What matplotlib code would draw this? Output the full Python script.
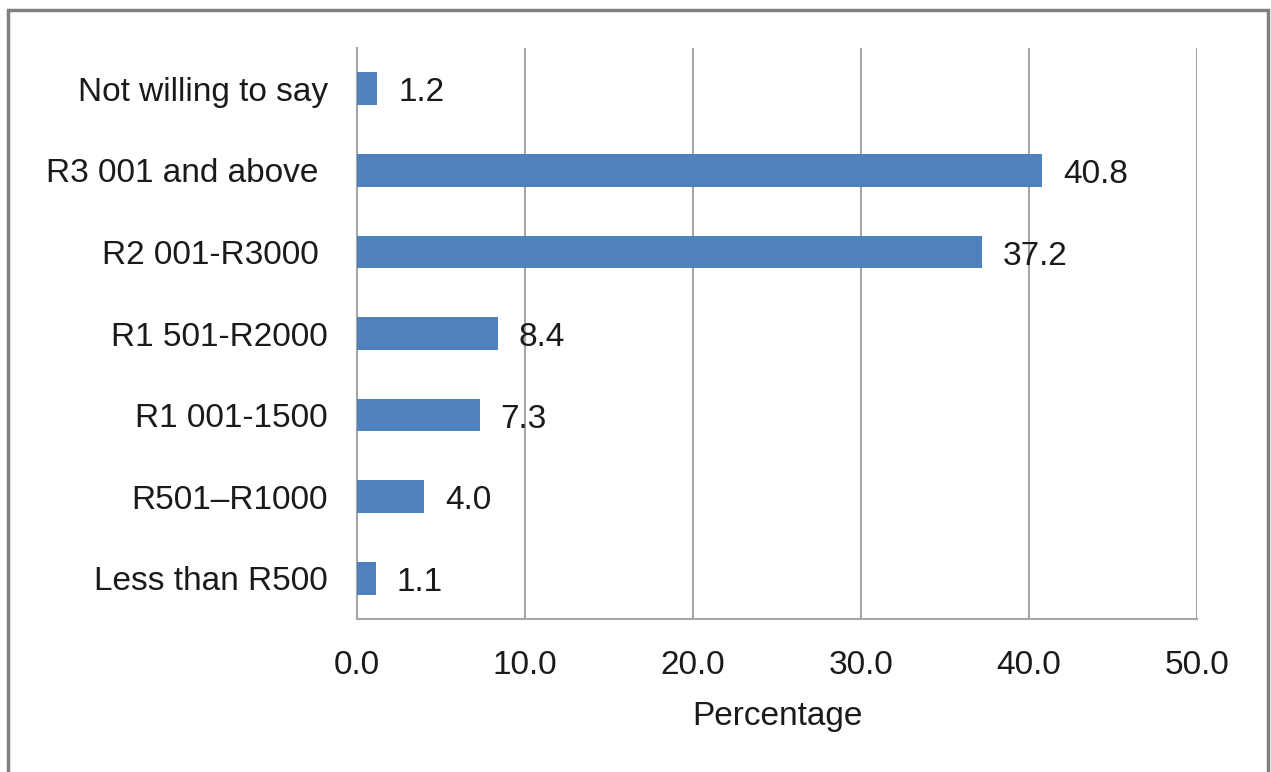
import matplotlib.pyplot as plt
from matplotlib.patches import Rectangle

plt.rcParams['font.family'] = ['Liberation Sans', 'DejaVu Sans']

# income bands, bottom to top
categories = ['Less than R500', 'R501\u2013R1000', 'R1 001-1500', 'R1 501-R2000',
              'R2 001-R3000 ', 'R3 001 and above ', 'Not willing to say']
values = [1.1, 4.0, 7.3, 8.4, 37.2, 40.8, 1.2]
xticks = [0, 10, 20, 30, 40, 50]

bar_color = '#4F81BD'
grid_color = '#A6A6A6'
fs = 24

fig = plt.figure(figsize=(12.71, 7.72), dpi=100)
ax = fig.add_axes([0.2809, 0.1982, 0.6609, 0.7396])

ypos = range(len(categories))
ax.barh(ypos, values, height=0.4, color=bar_color, zorder=3)
for y, v in zip(ypos, values):
    ax.annotate(f'{v:.1f}', (v, y), xytext=(15, -3), textcoords='offset points',
                va='center', ha='left', fontsize=fs, color='#1a1a1a')

ax.set_xlim(0, 50)
ax.set_ylim(-0.5, len(categories) - 0.5)
ax.set_xticks(xticks)
ax.set_xticklabels([f'{t:.1f}' for t in xticks])
ax.set_yticks(list(ypos))
ax.set_yticklabels(categories)
ax.tick_params(axis='both', length=0, labelsize=fs, colors='#1a1a1a')
ax.tick_params(axis='y', pad=21)
ax.tick_params(axis='x', pad=22)
ax.set_xlabel('Percentage', fontsize=fs, color='#1a1a1a', labelpad=15)

ax.xaxis.grid(True, color=grid_color, linewidth=1.5, zorder=0)
for s in ['top', 'right']:
    ax.spines[s].set_visible(False)
for s in ['left', 'bottom']:
    ax.spines[s].set_color(grid_color)
    ax.spines[s].set_linewidth(1.5)

# outer chart border (runs off the bottom)
fig.patches.append(Rectangle((8 / 1271, -0.05), 1260 / 1271, 1.05 - 10 / 772,
                             transform=fig.transFigure, fill=False,
                             edgecolor='#808080', linewidth=2.5))

fig.savefig('out.png', dpi=100)
